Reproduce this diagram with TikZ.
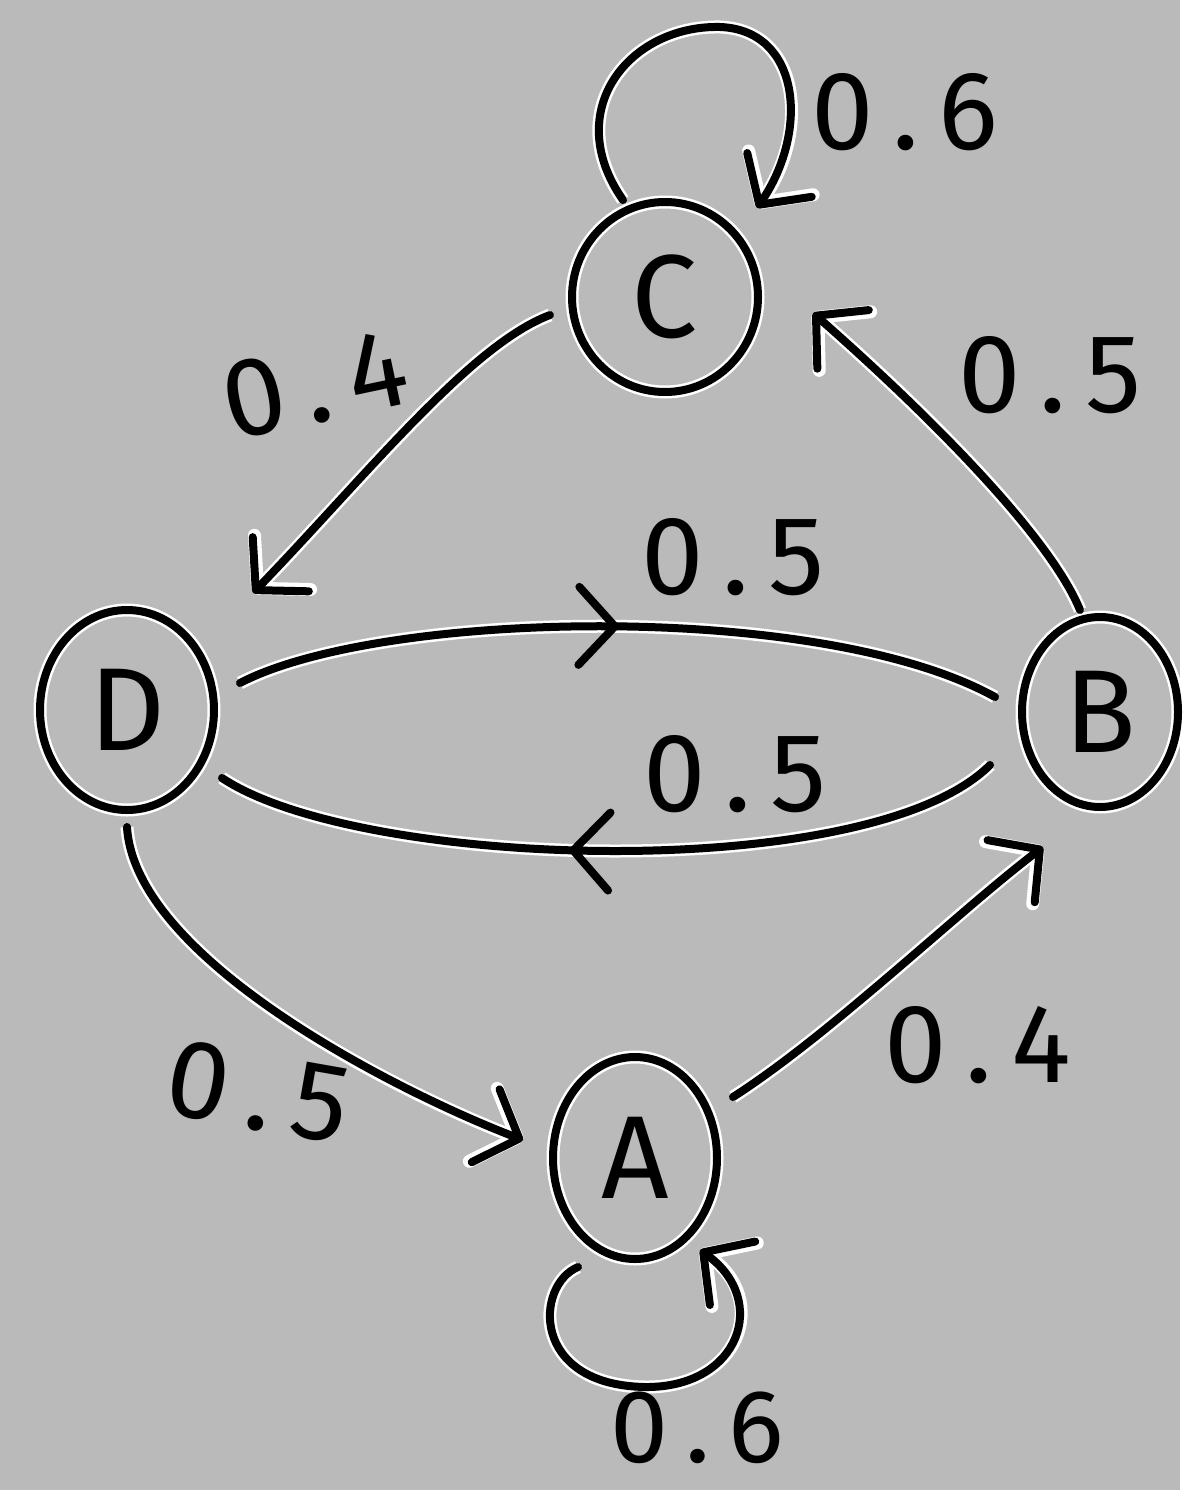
\documentclass[tikz,border=0pt]{standalone}
\usepackage{fontspec}
\setmainfont{Fira Sans}
\usetikzlibrary{shapes.geometric,arrows.meta,decorations.markings,calc}
\definecolor{paper}{RGB}{186,186,186}
\newcommand{\prob}[2]{#1\,.\,#2}
\begin{document}
\begin{tikzpicture}[x=1pt,y=-1pt,
  stroke/.style={line width=8pt, line cap=round, line join=round, draw=black, preaction={draw=white, line width=13pt}},
  state/.style={ellipse, stroke, inner sep=0pt, text=black, font=\fontsize{118}{118}\selectfont},
  arr/.style={stroke, -{Straight Barb[length=36pt,width=78pt,round]}},
  midarr/.style={stroke, postaction={decorate, decoration={markings, mark=at position #1 with {\arrow{Straight Barb[length=36pt,width=78pt,round]}}}}},
  lbl/.style={font=\fontsize{112}{112}\selectfont, inner sep=0pt, text=black}
]
\fill[paper] (0,0) rectangle (1180,1490);

% states
\node[state, minimum width=186pt, minimum height=190pt] (C) at (665,297) {C};
\node[state, minimum width=174pt, minimum height=200pt] (D) at (127,710) {D};
\node[state, minimum width=156pt, minimum height=190pt] (B) at (1100,712) {B};
\node[state, minimum width=164pt, minimum height=202pt] (A) at (635,1158) {A};

% self loops
\draw[arr] ($(C)+(-42,-97)$) .. controls (560,110) and (630,25) .. (720,27)
           .. controls (800,30) and (810,130) .. ($(C)+(92,-89)$);
\draw[arr] ($(A)+(-57,109)$) .. controls (535,1285) and (530,1385) .. (645,1387)
           .. controls (740,1388) and (770,1300) .. ($(A)+(65,92)$);

% C -> D
\draw[arr] ($(C)+(-115,18)$) .. controls (470,345) and (365,477) .. ($(D)+(126,-117)$);
% B -> C
\draw[arr] ($(B)+(-20,-102)$) .. controls (1045,525) and (895,385) .. ($(C)+(148,16)$);
% D -> B (upper)
\draw[midarr=0.5] ($(D)+(113,-27)$) .. controls (380,610) and (820,600) .. ($(B)+(-105,-15)$);
% B -> D (lower)
\draw[midarr=0.55] ($(B)+(-110,53)$) .. controls (870,885) and (360,870) .. ($(D)+(95,68)$);
% D -> A
\draw[arr] ($(D)+(0,117)$) .. controls (135,960) and (400,1093) .. ($(A)+(-112,-18)$);
% A -> B
\draw[arr] ($(A)+(98,-61)$) .. controls (830,1035) and (960,910) .. ($(B)+(-57,135)$);

% labels
\node[lbl] (lCC) at (905,112) {\prob{0}{6}};
\node[lbl, rotate=12] (lCD) at (315,385) {\prob{0}{4}};
\node[lbl] (lBC) at (1050,375) {\prob{0}{5}};
\node[lbl] (lDB) at (733,557) {\prob{0}{5}};
\node[lbl] (lBD) at (735,774) {\prob{0}{5}};
\node[lbl, rotate=-10] (lDA) at (258,1092) {\prob{0}{5}};
\node[lbl] (lAB) at (978,1045) {\prob{0}{4}};
\node[lbl, font=\fontsize{104}{104}\selectfont] (lAA) at (697,1428) {\prob{0}{6}};
\end{tikzpicture}
\end{document}
